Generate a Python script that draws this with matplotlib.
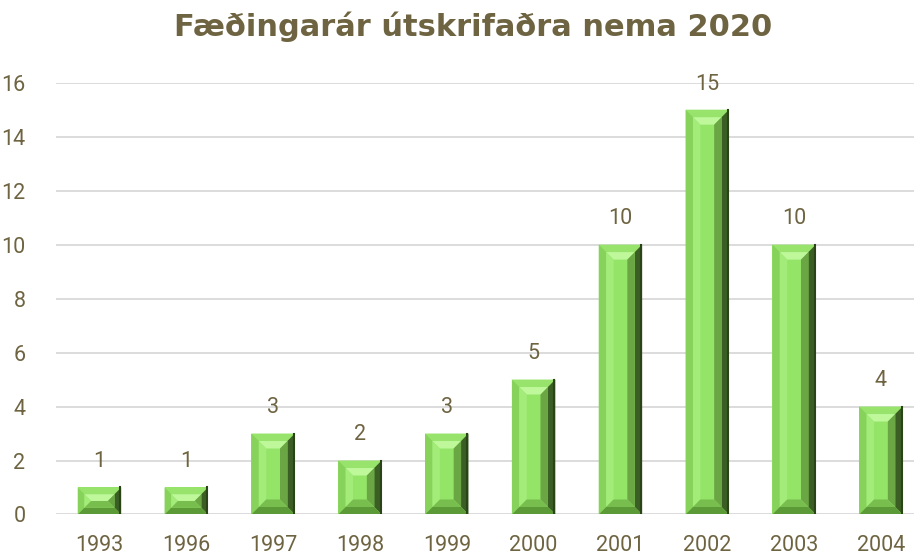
import matplotlib
matplotlib.use("Agg")
import matplotlib.pyplot as plt
from matplotlib.patches import Polygon

years = ['1993', '1996', '1997', '1998', '1999', '2000', '2001', '2002', '2003', '2004']
counts = [1, 1, 3, 2, 3, 5, 10, 15, 10, 4]

text_color = '#6E6442'
face = '#94E468'
num_font = ['Roboto', 'DejaVu Sans']

fig = plt.figure(figsize=(9.14, 5.55), dpi=100)
ax = fig.add_axes([0.0613, 0.073, 0.95, 0.778])

x = list(range(len(years)))
bars = ax.bar(x, counts, width=0.5, color=face, edgecolor='none', zorder=3)

# bevel bands: (inset start, inset end) as fractions of the bevel; colours top/left/right/bottom
sx = 0.5 / 44      # data units per pixel, x
sy = 16 / 432      # data units per pixel, y
bands = [
    (0.0, 0.5, ['#98E36C', '#86D25B', '#3A5E23', '#5C9A38']),
    (0.5, 1.0, ['#BEF89B', '#A4EC7A', '#6AA644', '#78BE4E']),
]


def ring(x0, x1, y0, y1, a, b, dx, dy):
    # four trapezoids between inset a and inset b
    top = [(x0 + a * dx, y1 - a * dy), (x1 - a * dx, y1 - a * dy),
           (x1 - b * dx, y1 - b * dy), (x0 + b * dx, y1 - b * dy)]
    left = [(x0 + a * dx, y0 + a * dy), (x0 + a * dx, y1 - a * dy),
            (x0 + b * dx, y1 - b * dy), (x0 + b * dx, y0 + b * dy)]
    right = [(x1 - a * dx, y0 + a * dy), (x1 - a * dx, y1 - a * dy),
             (x1 - b * dx, y1 - b * dy), (x1 - b * dx, y0 + b * dy)]
    bottom = [(x0 + a * dx, y0 + a * dy), (x1 - a * dx, y0 + a * dy),
              (x1 - b * dx, y0 + b * dy), (x0 + b * dx, y0 + b * dy)]
    return [top, left, right, bottom]


for b in bars:
    x0, w, h = b.get_x(), b.get_width(), b.get_height()
    x1 = x0 + w
    bev = min(15, h / sy / 2)
    dx, dy = bev * sx, bev * sy
    for a, e, cols in bands:
        for pts, c in zip(ring(x0, x1, 0, h, a, e, dx, dy), cols):
            ax.add_patch(Polygon(pts, closed=True, facecolor=c, edgecolor='none', zorder=4))
    ax.plot([x1 - 1 * sx, x1 - 1 * sx], [0, h], color='#2A4418', lw=1.5, zorder=5)
    ax.text(x0 + w / 2, h + 0.95, str(h), ha='center', va='center',
            fontsize=15.5, color=text_color, family=num_font)

ax.set_xlim(-0.5, len(years) - 0.5)
ax.set_ylim(0, 16)
ax.set_yticks(range(0, 17, 2))
ax.set_xticks(x)
ax.set_xticklabels(years)
ax.yaxis.grid(True, color='#D9D9D9', lw=1.3, zorder=0)
ax.set_axisbelow(True)
for s in ax.spines.values():
    s.set_visible(False)
ax.tick_params(length=0, labelsize=15.5, labelcolor=text_color, pad=15)
ax.tick_params(axis='y', pad=22)
for lab in ax.get_xticklabels() + ax.get_yticklabels():
    lab.set_family(num_font)

fig.text(0.518, 0.951, 'Fæðingarár útskrifaðra nema 2020', ha='center', va='center',
         fontsize=22, fontweight='bold', color=text_color)

fig.savefig('out.png', dpi=100)
